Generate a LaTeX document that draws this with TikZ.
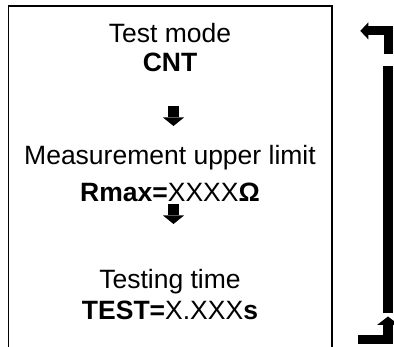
\documentclass[tikz,border=0pt]{standalone}
\usepackage{fontspec}
\setmainfont{Liberation Sans}
\usetikzlibrary{arrows.meta}
\begin{document}
\begin{tikzpicture}[x=1pt,y=-1pt,
  txt/.style={font=\fontsize{26.5}{30}\selectfont, anchor=base, inner sep=0pt},
  boxline/.style={line width=1.6pt},
  blockarrow/.style={line width=#1, line join=miter},
  downtip/.style={-{Triangle[length=8.5pt,width=21pt,line width=0pt]}}]
\useasboundingbox (0,0) rectangle (394,347);
\clip (0,0) rectangle (394,347);
% frame (cropped at the bottom)
\draw[boxline] (8.3,360) -- (8.3,5.8) -- (332,5.8) -- (332,360);
% texts
\node[txt] (mode) at (170,42.5) {Test mode};
\node[txt] (cnt) at (170,71.7) {\bfseries CNT};
\node[txt] (meas) at (170,165) {Measurement upper limit};
\node[txt] (rmax) at (170,202) {\textbf{Rmax=}XXXX\textbf{Ω}};
\node[txt] (ttime) at (170,288.3) {Testing time};
\node[txt] (test) at (170,320) {\textbf{TEST=}X.XXX\textbf{s}};
% down arrows
\coordinate (a1s) at (173.5,106.5);
\coordinate (a1e) at (173.5,126);
\coordinate (a2s) at (173.5,204);
\coordinate (a2e) at (173.5,224);
\draw[blockarrow=10.5pt, downtip] (a1s) -- (a1e);
\draw[blockarrow=10.5pt, downtip] (a2s) -- (a2e);
% right side
\coordinate (ts) at (388,54);
\coordinate (tc) at (388,30.9);
\coordinate (te) at (360.3,30.9);
\draw[blockarrow=9pt, -{Triangle[length=8pt,width=17pt,line width=0pt]}] (ts) -- (tc) -- (te);
\coordinate (bt) at (388,66);
\coordinate (bb) at (388,313);
\draw[blockarrow=10pt] (bt) -- (bb);
\coordinate (ls) at (358,339.3);
\coordinate (lc) at (388,339.3);
\coordinate (le) at (388,316.5);
\draw[blockarrow=9.5pt, -{Triangle[length=8.5pt,width=22pt,line width=0pt]}] (ls) -- (lc) -- (le);
\end{tikzpicture}
\end{document}
